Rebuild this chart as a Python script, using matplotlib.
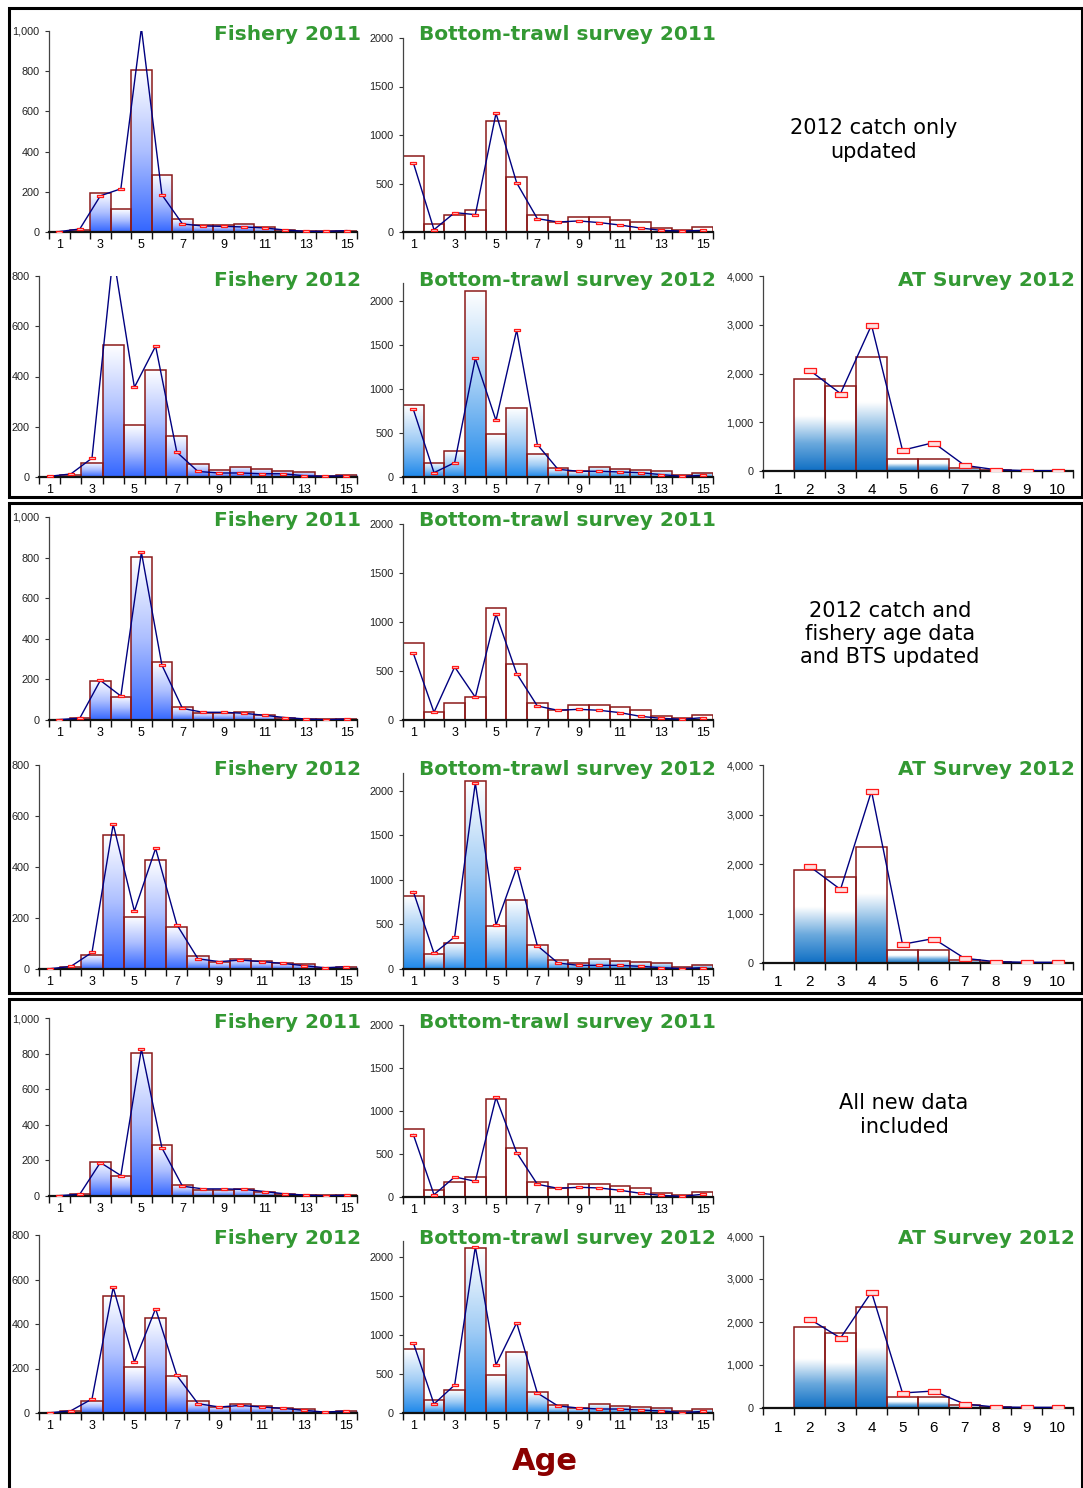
import numpy as np
import matplotlib
matplotlib.use("Agg")
import matplotlib.pyplot as plt
from matplotlib.colors import LinearSegmentedColormap
from matplotlib.path import Path
from matplotlib.patches import Rectangle
from matplotlib.ticker import FuncFormatter

# ---------------- data ----------------
ages15 = list(range(1, 16))
ages10 = list(range(1, 11))

fish11_obs = [2, 12, 192, 114, 805, 284, 64, 36, 36, 40, 24, 12, 4, 3, 5]
fish11_pred_a = [2, 15, 180, 215, 1015, 185, 40, 30, 28, 25, 20, 10, 3, 3, 7]
fish11_pred_b = [2, 9, 195, 118, 826, 270, 57, 38, 38, 33, 23, 12, 5, 1, 5]
fish11_pred_c = [2, 10, 188, 115, 826, 270, 55, 40, 40, 37, 25, 12, 5, 1, 5]

bts11_obs = [786, 86, 172, 231, 1145, 569, 172, 103, 155, 155, 128, 103, 45, 24, 55]
bts11_pred_a = [714, 24, 200, 179, 1224, 507, 138, 103, 114, 97, 72, 41, 17, 10, 17]
bts11_pred_b = [681, 78, 542, 232, 1080, 474, 143, 99, 109, 99, 75, 37, 17, 7, 24]
bts11_pred_c = [726, 27, 233, 183, 1157, 516, 148, 101, 113, 105, 78, 43, 19, 8, 31]

fish12_obs = [1, 7, 56, 525, 205, 427, 165, 52, 29, 40, 32, 24, 20, 3, 9]
fish12_pred_a = [3, 12, 75, 885, 357, 521, 99, 22, 16, 16, 13, 13, 5, 3, 5]
fish12_pred_b = [1, 10, 65, 568, 227, 473, 174, 40, 29, 35, 29, 22, 13, 5, 9]
fish12_pred_c = [1, 10, 63, 565, 229, 469, 169, 42, 27, 34, 27, 21, 12, 4, 9]

bts12_obs = [816, 163, 292, 2106, 486, 778, 266, 102, 68, 114, 91, 76, 68, 27, 49]
bts12_pred_a = [767, 49, 163, 1347, 641, 1666, 368, 87, 65, 65, 57, 49, 27, 8, 19]
bts12_pred_b = [869, 176, 360, 2090, 491, 1139, 262, 67, 41, 41, 41, 30, 15, 4, 15]
bts12_pred_c = [897, 115, 359, 2128, 615, 1154, 256, 90, 64, 51, 51, 38, 26, 5, 20]

at12_obs = [0, 1884, 1747, 2342, 253, 253, 62, 27, 7, 7]
at12_pred_a = [np.nan, 2068, 1589, 2993, 425, 582, 116, 27, 7, 7]
at12_pred_b = [np.nan, 1953, 1486, 3473, 378, 493, 95, 27, 14, 14]
at12_pred_c = [np.nan, 2070, 1628, 2698, 349, 395, 93, 23, 15, 15]

panel_notes = ["2012 catch only\nupdated",
               "2012 catch and\nfishery age data\nand BTS updated",
               "All new data\nincluded"]

# ---------------- styling ----------------
W, H = 1083, 1488
fig = plt.figure(figsize=(W / 100, H / 100), dpi=100)

GREEN = "#339933"
EDGE = "#8b1a1a"
LINE = "#000080"

cm_fish = LinearSegmentedColormap.from_list("fish", [(0, "#3366ff"), (0.5, "#adbfff"), (1, "#ffffff")])
cm_bts12 = LinearSegmentedColormap.from_list("bts12", [(0, "#1e88ea"), (0.5, "#a0ccf5"), (1, "#ffffff")])
cm_at = LinearSegmentedColormap.from_list("at", [(0, "#0f6fc4"), (0.3, "#6aa9dd"), (0.6, "#ffffff"), (1, "#ffffff")])

rect_marker = Path([(-1, -0.4), (1, -0.4), (1, 0.4), (-1, 0.4), (-1, -0.4)],
                   [Path.MOVETO, Path.LINETO, Path.LINETO, Path.LINETO, Path.CLOSEPOLY])


def add_ax(x0, x1, ytop, ybot):
    return fig.add_axes([x0 / W, 1 - ybot / H, (x1 - x0) / W, (ybot - ytop) / H])


def draw_chart(ax, cats, obs, pred, ymax, yticks, fmt, cmap, xlabels, big=False, msize=5):
    n = len(cats)
    grad = np.linspace(0, 1, 256).reshape(-1, 1)
    for c, v in zip(cats, obs):
        if v > 0 and cmap is not None:
            ax.imshow(grad, extent=(c - 0.5, c + 0.5, 0, v), origin="lower", cmap=cmap,
                      aspect="auto", zorder=1, interpolation="bilinear")
    ax.bar(cats, obs, width=1.0, facecolor="none", edgecolor=EDGE, linewidth=1.1, zorder=2)
    ax.plot(cats, pred, color=LINE, lw=1.0, zorder=3, marker=rect_marker, markersize=msize,
            markerfacecolor="#ffe0e0", markeredgecolor="#ff1a1a", markeredgewidth=0.9)
    ax.set_xlim(0.5, n + 0.5)
    ax.set_ylim(0, ymax)
    for s in ["top", "right"]:
        ax.spines[s].set_visible(False)
    ax.spines["left"].set_color("#444444")
    ax.spines["left"].set_linewidth(0.9)
    ax.spines["bottom"].set_color("#111111")
    ax.spines["bottom"].set_linewidth(1.6)
    ax.set_yticks(yticks)
    ax.yaxis.set_major_formatter(FuncFormatter(fmt))
    ax.tick_params(axis="y", labelsize=7.8, length=3, width=0.8, colors="#333333",
                   labelcolor="#222222", pad=4)
    ax.set_xticks(np.arange(0.5, n + 1.0, 1.0), minor=True)
    ax.tick_params(axis="x", which="minor", length=5, width=1.0, color="#111111")
    ax.set_xticks(xlabels)
    ax.set_xticklabels([str(v) for v in xlabels], family="Liberation Sans",
                       fontsize=11 if big else 9)
    ax.tick_params(axis="x", which="major", length=0, pad=9 if big else 5)
    for lab in ax.get_yticklabels():
        lab.set_family("Liberation Sans")
    ax.patch.set_alpha(0)


comma = lambda v, p: f"{int(v):,}"
plain = lambda v, p: f"{int(v)}"

boxes = [
    dict(f11=(31, 232), b11=(38, 232), f12=(276, 477), b12=(283, 477), at=(276, 471),
         t1=34, t2=279, note=(874, 140)),
    dict(f11=(517, 720), b11=(524, 720), f12=(765, 969), b12=(773, 969), at=(765, 963),
         t1=519, t2=768, note=(890, 634)),
    dict(f11=(1018, 1196), b11=(1025, 1197), f12=(1235, 1413), b12=(1241, 1413), at=(1236, 1408),
         t1=1022, t2=1238, note=(904, 1115)),
]
preds = [
    (fish11_pred_a, bts11_pred_a, fish12_pred_a, bts12_pred_a, at12_pred_a),
    (fish11_pred_b, bts11_pred_b, fish12_pred_b, bts12_pred_b, at12_pred_b),
    (fish11_pred_c, bts11_pred_c, fish12_pred_c, bts12_pred_c, at12_pred_c),
]

for i, (bx, pr) in enumerate(zip(boxes, preds)):
    pf11, pb11, pf12, pb12, pat = pr
    ax = add_ax(49, 357, *bx["f11"])
    draw_chart(ax, ages15, fish11_obs, pf11, 1000, [0, 200, 400, 600, 800, 1000], comma,
               cm_fish, ages15[::2])
    ax = add_ax(403, 713, *bx["b11"])
    draw_chart(ax, ages15, bts11_obs, pb11, 2000, [0, 500, 1000, 1500, 2000], plain,
               None, ages15[::2])
    ax = add_ax(39, 357, *bx["f12"])
    draw_chart(ax, ages15, fish12_obs, pf12, 800, [0, 200, 400, 600, 800], plain,
               cm_fish, ages15[::2])
    ax = add_ax(403, 713, *bx["b12"])
    draw_chart(ax, ages15, bts12_obs, pb12, 2200, [0, 500, 1000, 1500, 2000], plain,
               cm_bts12, ages15[::2])
    ax = add_ax(763, 1073, *bx["at"])
    draw_chart(ax, ages10, at12_obs, pat, 4000, [0, 1000, 2000, 3000, 4000], comma,
               cm_at, ages10, big=True, msize=9)

    tkw = dict(color=GREEN, fontsize=14.5, fontweight="bold", family="DejaVu Sans", va="center")
    fig.text(361 / W, 1 - (bx["t1"] + 1) / H, "Fishery 2011", ha="right", **tkw)
    fig.text(419 / W, 1 - (bx["t1"] + 1) / H, "Bottom-trawl survey 2011", ha="left", **tkw)
    fig.text(361 / W, 1 - (bx["t2"] + 1) / H, "Fishery 2012", ha="right", **tkw)
    fig.text(419 / W, 1 - (bx["t2"] + 1) / H, "Bottom-trawl survey 2012", ha="left", **tkw)
    fig.text(1075 / W, 1 - (bx["t2"] + 1) / H, "AT Survey 2012", ha="right", **tkw)

    nx, ny = bx["note"]
    fig.text(nx / W, 1 - ny / H, panel_notes[i], ha="center", va="center", fontsize=15,
             family="DejaVu Sans", linespacing=1.2, color="black")

# box frames
for (y0, y1) in [(8, 497), (503, 993), (999, 1492)]:
    fig.patches.append(Rectangle((9 / W, 1 - y1 / H), (1082 - 9) / W, (y1 - y0) / H,
                                 transform=fig.transFigure, fill=False, edgecolor="black",
                                 linewidth=2.2))

fig.text(545 / W, 1 - 1462 / H, "Age", ha="center", va="center", fontsize=22,
         fontweight="bold", color="#8b0000", family="DejaVu Sans")

fig.savefig("out.png", dpi=100)
